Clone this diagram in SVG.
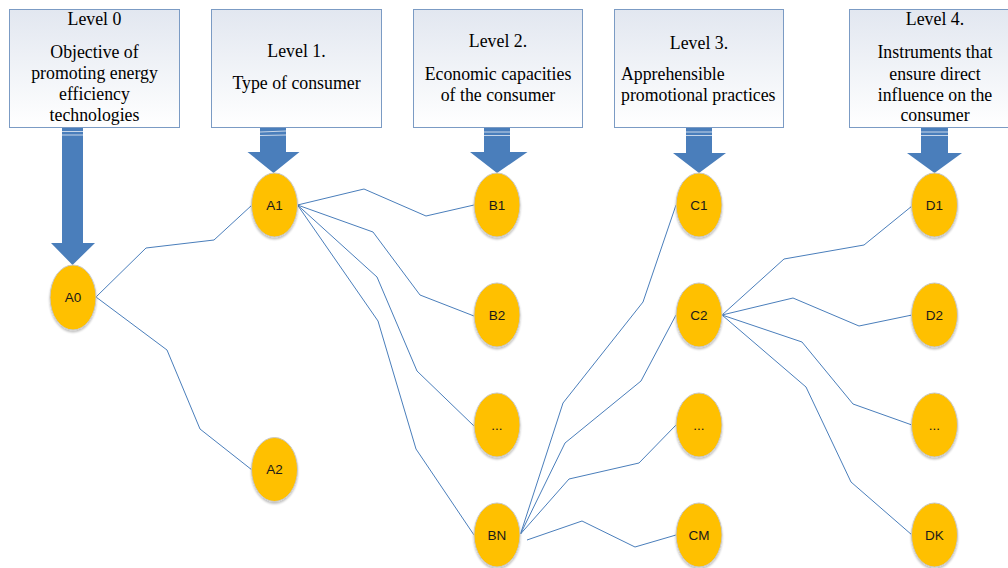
<svg xmlns="http://www.w3.org/2000/svg" width="1008" height="568" viewBox="0 0 1008 568">
<defs>
<linearGradient id="boxg" x1="0" y1="0" x2="0" y2="1">
<stop offset="0" stop-color="#e2e7f0"/>
<stop offset="1" stop-color="#ffffff"/>
</linearGradient>
<filter id="sh" x="-30%" y="-30%" width="160%" height="160%">
<feGaussianBlur in="SourceAlpha" stdDeviation="1.2"/>
<feOffset dx="0" dy="1.5" result="b"/>
<feComponentTransfer><feFuncA type="linear" slope="0.25"/></feComponentTransfer>
<feMerge><feMergeNode/><feMergeNode in="SourceGraphic"/></feMerge>
</filter>
</defs>
<style>
.box{fill:url(#boxg);stroke:#7b9bc4;stroke-width:1}
.bt{font-family:"Liberation Serif","Times New Roman",serif;font-size:17.8px;fill:#000}
.c{text-anchor:middle}
.arr{fill:#4a7ebb}
.hl{stroke:#c8d7ea;stroke-width:1}
.node{fill:#ffc000;stroke:#c8c8c8;stroke-width:1;filter:url(#sh)}
.nt{font-family:"Liberation Sans",Arial,sans-serif;font-size:13.5px;fill:#1a1a1a;text-anchor:middle}
.con{fill:none;stroke:#4a7ebb;stroke-width:1}
</style>
<rect width="1008" height="568" fill="#ffffff"/>

<g id="level0">
<rect class="box" x="9.5" y="9.5" width="170" height="118"/>
<text class="bt c" x="94.5" y="25">Level 0</text>
<text class="bt c" x="94.5" y="57.5">Objective of</text>
<text class="bt c" x="94.5" y="79">promoting energy</text>
<text class="bt c" x="94.5" y="100">efficiency</text>
<text class="bt c" x="94.5" y="121">technologies</text>
</g>
<g id="level1">
<rect class="box" x="211.5" y="9.5" width="170" height="118"/>
<text class="bt c" x="296.5" y="57">Level 1.</text>
<text class="bt c" x="296.5" y="89">Type of consumer</text>
</g>
<g id="level2">
<rect class="box" x="413.5" y="9.5" width="169" height="118"/>
<text class="bt c" x="498" y="47">Level 2.</text>
<text class="bt c" x="498" y="80">Economic capacities</text>
<text class="bt c" x="498" y="101">of the consumer</text>
</g>
<g id="level3">
<rect class="box" x="614.5" y="9.5" width="169" height="118"/>
<text class="bt c" x="699" y="49">Level 3.</text>
<text class="bt" x="621" y="80">Apprehensible</text>
<text class="bt" x="621" y="101">promotional practices</text>
</g>
<g id="level4">
<rect class="box" x="849.5" y="9.5" width="170" height="118"/>
<text class="bt c" x="935" y="25">Level 4.</text>
<text class="bt c" x="935" y="58">Instruments that</text>
<text class="bt c" x="935" y="80">ensure direct</text>
<text class="bt c" x="935" y="101">influence on the</text>
<text class="bt c" x="935" y="121">consumer</text>
</g>

<g id="arrows">
<polygon class="arr" points="62,128 83,128 83,243 95,243 72.5,265 51,243 62,243"/>
<line class="hl" x1="62" y1="131.5" x2="83" y2="131.5"/>
<line class="hl" x1="62" y1="135" x2="83" y2="135"/>
<polygon class="arr" points="260,128 286,128 286,152 299.5,152 273.5,173 247.5,152 260,152"/>
<line class="hl" x1="260" y1="132" x2="286" y2="131"/>
<line class="hl" x1="260" y1="135.5" x2="286" y2="135"/>
<polygon class="arr" points="484,128 510,128 510,152 527.5,152 497,173 470,152 484,152"/>
<line class="hl" x1="484" y1="132" x2="510" y2="132"/>
<line class="hl" x1="484" y1="135.5" x2="510" y2="135.5"/>
<polygon class="arr" points="686,128 712,128 712,153 726,153 699,173 673,153 686,153"/>
<line class="hl" x1="686" y1="132" x2="712" y2="132"/>
<line class="hl" x1="686" y1="135.5" x2="712" y2="135.5"/>
<polygon class="arr" points="921,128 948,128 948,153 962,153 934.5,173 907,153 921,153"/>
<line class="hl" x1="921" y1="132" x2="948" y2="132"/>
<line class="hl" x1="921" y1="135.5" x2="948" y2="135.5"/>
</g>

<g id="connectors">
<polyline class="con" points="96,297 146,248 214,240 252,205"/>
<polyline class="con" points="96,297 167,350 200,429 252,470"/>
<polyline class="con" points="297.5,205 364,189 426,216 474,205"/>
<polyline class="con" points="297.5,205 373,232 420,295 474,316"/>
<polyline class="con" points="297.5,205 377,277 417,371 474,426"/>
<polyline class="con" points="297.5,205 378,321 416,449 474,535"/>
<polyline class="con" points="520.5,534 563,403 643,302 676,205"/>
<polyline class="con" points="520.5,534 565,443 641,381 676,315"/>
<polyline class="con" points="520.5,534 569,479 639,463 676,425"/>
<polyline class="con" points="527,540 582,521 635,547 676,535"/>
<polyline class="con" points="722,315 784,259 864,245 912,206"/>
<polyline class="con" points="722,315 793,298 859,326 912,315"/>
<polyline class="con" points="722,315 802,342 853,404 912,425"/>
<polyline class="con" points="722,315 806,387 851,482 912,535"/>
</g>

<g id="A0"><ellipse class="node" cx="73" cy="297.5" rx="23" ry="32.5"/><text class="nt" x="73" y="302">A0</text></g>
<g id="A1"><ellipse class="node" cx="274.5" cy="205" rx="23" ry="32"/><text class="nt" x="274.5" y="209.5">A1</text></g>
<g id="A2"><ellipse class="node" cx="274.5" cy="469.5" rx="23" ry="32"/><text class="nt" x="274.5" y="474">A2</text></g>
<g id="B1"><ellipse class="node" cx="497" cy="205" rx="23" ry="32"/><text class="nt" x="497" y="209.5">B1</text></g>
<g id="B2"><ellipse class="node" cx="497" cy="315" rx="23" ry="32"/><text class="nt" x="497" y="319.5">B2</text></g>
<g id="B3"><ellipse class="node" cx="497" cy="425" rx="23" ry="32"/><text class="nt" x="497" y="429.5">...</text></g>
<g id="BN"><ellipse class="node" cx="497" cy="535" rx="23" ry="32"/><text class="nt" x="497" y="539.5">BN</text></g>
<g id="C1"><ellipse class="node" cx="699" cy="205" rx="23" ry="32"/><text class="nt" x="699" y="209.5">C1</text></g>
<g id="C2"><ellipse class="node" cx="699" cy="315" rx="23" ry="32"/><text class="nt" x="699" y="319.5">C2</text></g>
<g id="C3"><ellipse class="node" cx="699" cy="425" rx="23" ry="32"/><text class="nt" x="699" y="429.5">...</text></g>
<g id="CM"><ellipse class="node" cx="699" cy="535" rx="23" ry="32"/><text class="nt" x="699" y="539.5">CM</text></g>
<g id="D1"><ellipse class="node" cx="934.5" cy="205" rx="23" ry="32"/><text class="nt" x="934.5" y="209.5">D1</text></g>
<g id="D2"><ellipse class="node" cx="934.5" cy="315" rx="23" ry="32"/><text class="nt" x="934.5" y="319.5">D2</text></g>
<g id="D3"><ellipse class="node" cx="934.5" cy="425" rx="23" ry="32"/><text class="nt" x="934.5" y="429.5">...</text></g>
<g id="DK"><ellipse class="node" cx="934.5" cy="535" rx="23" ry="32"/><text class="nt" x="934.5" y="539.5">DK</text></g>
</svg>
